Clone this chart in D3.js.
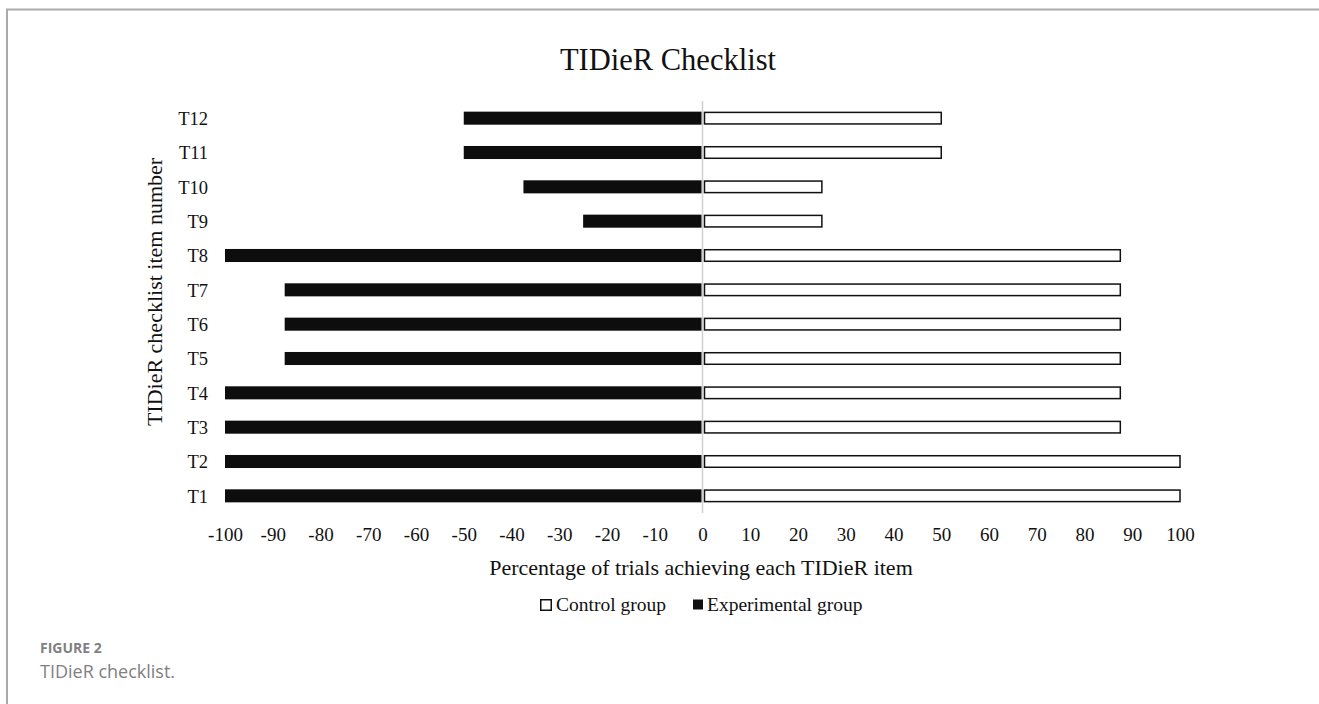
<!DOCTYPE html>
<html>
<head>
<meta charset="utf-8">
<script src="https://cdn.jsdelivr.net/npm/d3@7"></script>
<style>
  body { margin: 0; background: #fff; }
  svg text { font-family: "Liberation Serif", "Times New Roman", serif; fill: #111; }
  .cap { font-family: "Open Sans", "Noto Sans", sans-serif; fill: #808080; }
</style>
</head>
<body>
<svg id="chartSVG" width="1319" height="704"></svg>
<script>
let items = ['T1', 'T2', 'T3', 'T4', 'T5', 'T6', 'T7', 'T8', 'T9', 'T10', 'T11', 'T12'];
let controlVals = [100, 100, 87.5, 87.5, 87.5, 87.5, 87.5, 87.5, 25, 25, 50, 50];
let experimentalVals = [-100, -100, -100, -100, -87.5, -87.5, -87.5, -100, -25, -37.5, -50, -50];
let xTicks = [-100, -90, -80, -70, -60, -50, -40, -30, -20, -10, 0, 10, 20, 30, 40, 50, 60, 70, 80, 90, 100];
let seriesNames = ['Control group', 'Experimental group'];

let svg = d3.select('svg#chartSVG');

// frame round the figure (open on right and bottom, like the crop)
svg.append('path')
  .attr('d', 'M7,704 V9.5 H1319')
  .attr('fill', 'none')
  .attr('stroke', '#aaa')
  .attr('stroke-width', 2);

let xScale = d3.scaleLinear().domain([-100, 100]).range([225, 1180]);
let yScale = d3.scaleBand()
  .domain(items.slice().reverse())
  .range([101, 513])
  .paddingInner(0.62)
  .paddingOuter(0.31);

// zero line
svg.append('line')
  .attr('x1', xScale(0)).attr('x2', xScale(0))
  .attr('y1', 101).attr('y2', 513)
  .attr('stroke', '#d0d0d0')
  .attr('stroke-width', 1.5);

// experimental bars (black, to the left)
svg.selectAll('rect.exp')
  .data(items)
  .enter().append('rect')
  .attr('class', 'exp')
  .attr('x', (d, i) => xScale(experimentalVals[i]))
  .attr('y', d => yScale(d))
  .attr('width', (d, i) => xScale(0) - xScale(experimentalVals[i]) - 1)
  .attr('height', yScale.bandwidth())
  .attr('fill', '#0d0d0d');

// control bars (white, outlined)
svg.selectAll('rect.ctl')
  .data(items)
  .enter().append('rect')
  .attr('class', 'ctl')
  .attr('x', xScale(0) + 2)
  .attr('y', d => yScale(d) + 0.75)
  .attr('width', (d, i) => xScale(controlVals[i]) - xScale(0) - 2)
  .attr('height', yScale.bandwidth() - 1.5)
  .attr('fill', '#fff')
  .attr('stroke', '#111')
  .attr('stroke-width', 1.5);

// y axis labels
let yAxis = d3.axisLeft(yScale).tickSize(0).tickPadding(0);
let gY = svg.append('g').attr('transform', 'translate(208,1)').call(yAxis);
gY.select('.domain').remove();
gY.selectAll('text')
  .style('font-family', '"Liberation Serif", serif')
  .style('font-size', '18.5px')
  .attr('fill', '#111');

// x axis labels (plain hyphen like the original, not d3's minus sign)
let xAxis = d3.axisBottom(xScale).tickValues(xTicks).tickSize(0).tickPadding(0)
  .tickFormat(d => String(d));
let gX = svg.append('g').attr('transform', 'translate(0,527)').call(xAxis);
gX.select('.domain').remove();
gX.selectAll('text')
  .style('font-family', '"Liberation Serif", serif')
  .style('font-size', '19px')
  .attr('fill', '#111');

// title
svg.append('text')
  .attr('x', 668).attr('y', 70)
  .attr('text-anchor', 'middle')
  .style('font-size', '30.5px')
  .text('TIDieR Checklist');

// axis titles
svg.append('text')
  .attr('x', 701).attr('y', 575)
  .attr('text-anchor', 'middle')
  .style('font-size', '22px')
  .text('Percentage of trials achieving each TIDieR item');

svg.append('text')
  .attr('transform', 'translate(162,292) rotate(-90)')
  .attr('text-anchor', 'middle')
  .style('font-size', '22px')
  .text('TIDieR checklist item number');

// legend
let legendX = [540, 693];
let legend = svg.selectAll('g.legend')
  .data(seriesNames)
  .enter().append('g')
  .attr('class', 'legend')
  .attr('transform', (d, i) => `translate(${legendX[i]},599)`);
legend.append('rect')
  .attr('x', (d, i) => i == 0 ? 0.75 : 0)
  .attr('y', (d, i) => i == 0 ? 0.75 : 0.5)
  .attr('width', (d, i) => i == 0 ? 10.5 : 10)
  .attr('height', (d, i) => i == 0 ? 10.5 : 10)
  .attr('fill', (d, i) => i == 0 ? '#fff' : '#111')
  .attr('stroke', '#111')
  .attr('stroke-width', (d, i) => i == 0 ? 1.5 : 0);
legend.append('text')
  .attr('x', (d, i) => i == 0 ? 16 : 14).attr('y', 12)
  .style('font-size', '19.5px')
  .text(d => d);

// caption
svg.append('text')
  .attr('class', 'cap')
  .attr('x', 40).attr('y', 653)
  .style('font-size', '14px')
  .style('font-weight', 'bold')
  .text('FIGURE 2');
svg.append('text')
  .attr('class', 'cap')
  .attr('x', 40).attr('y', 678)
  .style('font-size', '18px')
  .text('TIDieR checklist.');
</script>
</body>
</html>
